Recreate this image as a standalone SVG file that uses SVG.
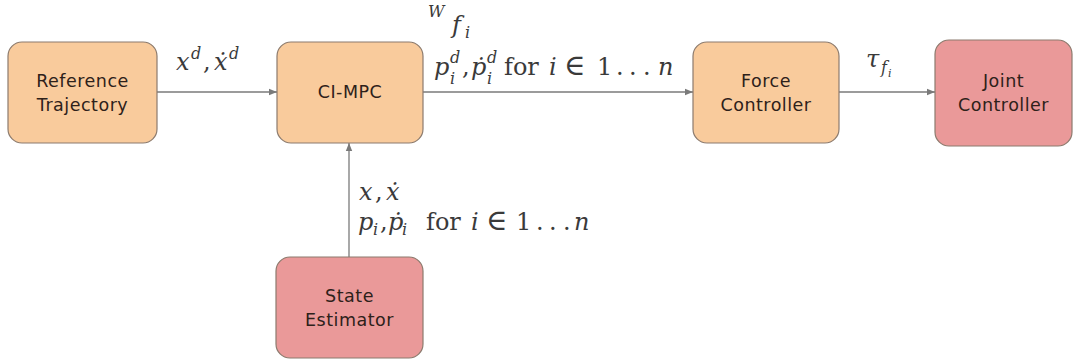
<svg xmlns="http://www.w3.org/2000/svg" width="1074" height="360" viewBox="0 0 1074 360">
<style>
.box{stroke:#8c7b6e;stroke-width:1.2}
.o{fill:#f9cb9c}
.r{fill:#ea9999}
.lbl{font-family:"DejaVu Sans","Liberation Sans",sans-serif;font-size:17.5px;letter-spacing:0.5px;fill:#2e211a;text-anchor:middle}
.m{font-family:"DejaVu Serif","Liberation Serif",serif;font-size:24px;fill:#3a3a3a}
.i{font-style:italic}
.s{font-size:16px}
.ss{font-size:11px}
.e{font-size:29px}
.c{stroke:#7a7a7a;stroke-width:1.3;fill:none}
</style>
<defs>
<marker id="ah" viewBox="0 0 10 10" refX="10" refY="5" markerWidth="8" markerHeight="8" markerUnits="userSpaceOnUse" orient="auto">
<path d="M0,1 L10,5 L0,9 z" fill="#7a7a7a"/>
</marker>
</defs>
<rect width="1074" height="360" fill="#ffffff"/>
<g id="connectors">
<line class="c" x1="157" y1="92" x2="277" y2="92" marker-end="url(#ah)"/>
<line class="c" x1="423" y1="92" x2="693" y2="92" marker-end="url(#ah)"/>
<line class="c" x1="839" y1="92" x2="935" y2="92" marker-end="url(#ah)"/>
<line class="c" x1="349" y1="257" x2="349" y2="143" marker-end="url(#ah)"/>
</g>
<g id="labels">
<text class="m" y="70"><tspan class="i" x="176">x</tspan><tspan class="i s" x="191" y="59">d</tspan><tspan x="203" y="70">,</tspan><tspan class="i" x="214">ẋ</tspan><tspan class="i s" x="229" y="59">d</tspan></text>
<text class="m"><tspan class="i s" x="428" y="17">W</tspan><tspan class="i" x="452" y="33">f</tspan><tspan class="i s" x="465" y="38">i</tspan></text>
<text class="m" y="75"><tspan class="i" x="434">p</tspan><tspan class="i s" x="450" y="63">d</tspan><tspan class="i s" x="450" y="84">i</tspan><tspan x="462" y="75">,</tspan><tspan class="i" x="471">ṗ</tspan><tspan class="i s" x="487" y="63">d</tspan><tspan class="i s" x="487" y="84">i</tspan><tspan x="504" y="75">for</tspan><tspan class="i" x="549">i</tspan><tspan class="e" x="564">∈</tspan><tspan x="597">1</tspan><tspan x="616">.</tspan><tspan x="629">.</tspan><tspan x="643">.</tspan><tspan class="i" x="658">n</tspan></text>
<text class="m"><tspan class="i" x="866" y="67">τ</tspan><tspan class="i s" x="881" y="73">f</tspan><tspan class="i ss" x="888" y="77">i</tspan></text>
<text class="m" y="200"><tspan class="i" x="359">x</tspan><tspan x="375">,</tspan><tspan class="i" x="386">ẋ</tspan></text>
<text class="m" y="230"><tspan class="i" x="358">p</tspan><tspan class="i s" x="373" y="235">i</tspan><tspan x="380" y="230">,</tspan><tspan class="i" x="388">ṗ</tspan><tspan class="i s" x="402" y="235">i</tspan><tspan x="426" y="230">for</tspan><tspan class="i" x="471">i</tspan><tspan class="e" x="486">∈</tspan><tspan x="516">1</tspan><tspan x="536">.</tspan><tspan x="549">.</tspan><tspan x="563">.</tspan><tspan class="i" x="574">n</tspan></text>
</g>
<g id="ref">
<rect class="box o" x="8" y="42" width="149" height="101" rx="14"/>
<text class="lbl" x="82.5" y="87">Reference</text>
<text class="lbl" x="82.5" y="111">Trajectory</text>
</g>
<g id="cimpc">
<rect class="box o" x="277" y="42" width="146" height="101" rx="14"/>
<text class="lbl" x="350" y="98">CI-MPC</text>
</g>
<g id="force">
<rect class="box o" x="693" y="42" width="146" height="101" rx="14"/>
<text class="lbl" x="766" y="87">Force</text>
<text class="lbl" x="766" y="111">Controller</text>
</g>
<g id="joint">
<rect class="box r" x="935" y="40" width="137" height="106" rx="14"/>
<text class="lbl" x="1003.5" y="87">Joint</text>
<text class="lbl" x="1003.5" y="111">Controller</text>
</g>
<g id="state">
<rect class="box r" x="276" y="257" width="147" height="101" rx="14"/>
<text class="lbl" x="349.5" y="302">State</text>
<text class="lbl" x="349.5" y="326">Estimator</text>
</g>
</svg>
